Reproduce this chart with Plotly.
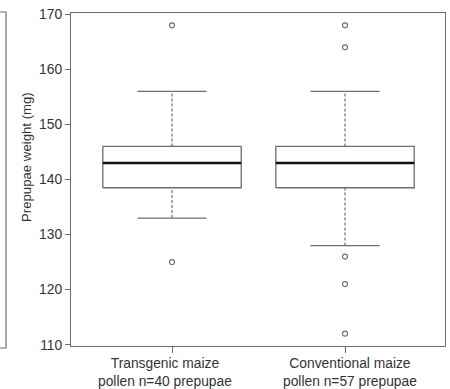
import plotly.graph_objects as go

# Summary statistics of prepupal weight (mg) per pollen treatment
groups = ["Transgenic maize<br>pollen n=40 prepupae",
          "Conventional maize<br>pollen n=57 prepupae"]
positions = [1, 2]
q1 = [138.5, 138.5]
median = [143, 143]
q3 = [146, 146]
whisker_low = [133, 128]
whisker_high = [156, 156]
outliers = [[125, 168], [112, 121, 126, 164, 168]]
y_ticks = [110, 120, 130, 140, 150, 160, 170]

BOX_HALF = 0.40
CAP_HALF = 0.20
GRAY = "#6e6e6e"
TEXT = "#333333"

# plot-area geometry in pixels, used to place free-floating text
PLOT_L, PLOT_W = 71, 374
PLOT_B, PLOT_H = 346, 333


def px_to_paper(px, py):
    return (px - PLOT_L) / PLOT_W, (PLOT_B - py) / PLOT_H


fig = go.Figure()

for i, x in enumerate(positions):
    # box outline
    fig.add_trace(go.Scatter(
        x=[x - BOX_HALF, x + BOX_HALF, x + BOX_HALF, x - BOX_HALF, x - BOX_HALF],
        y=[q1[i], q1[i], q3[i], q3[i], q1[i]],
        mode="lines", line=dict(color=GRAY, width=1.3),
        hoverinfo="skip", showlegend=False))
    # median
    fig.add_trace(go.Scatter(
        x=[x - BOX_HALF, x + BOX_HALF], y=[median[i], median[i]],
        mode="lines", line=dict(color="#111111", width=2.6),
        hoverinfo="skip", showlegend=False))
    # dashed whiskers
    for lo, hi in [(q3[i], whisker_high[i]), (whisker_low[i], q1[i])]:
        fig.add_trace(go.Scatter(
            x=[x, x], y=[lo, hi], mode="lines",
            line=dict(color=GRAY, width=1.2, dash="3px,2px"),
            hoverinfo="skip", showlegend=False))
    # whisker caps
    for v in (whisker_low[i], whisker_high[i]):
        fig.add_trace(go.Scatter(
            x=[x - CAP_HALF, x + CAP_HALF], y=[v, v], mode="lines",
            line=dict(color=GRAY, width=1.3),
            hoverinfo="skip", showlegend=False))
    # outliers
    fig.add_trace(go.Scatter(
        x=[x] * len(outliers[i]), y=outliers[i], mode="markers",
        marker=dict(symbol="circle-open", size=5, color=GRAY,
                    line=dict(width=1.1, color=GRAY)),
        hoverinfo="skip", showlegend=False))

# group labels beneath the axis
for x, label, dx in zip(positions, groups, [-7, 5]):
    fig.add_annotation(
        x=x, xref="x", y=0, yref="paper", yshift=-26, xshift=dx,
        text=label, showarrow=False, align="center",
        yanchor="middle", xanchor="center",
        font=dict(family="Liberation Sans, Arial", size=13.8, color=TEXT))

# y axis title
tx, ty = px_to_paper(26, 157)
fig.add_annotation(
    x=tx, xref="paper", y=ty, yref="paper", text="Prepupae weight (mg)",
    textangle=-90, showarrow=False, xanchor="center", yanchor="middle",
    font=dict(family="Liberation Sans, Arial", size=13.2, color=TEXT))

fig.update_layout(
    width=450, height=389,
    margin=dict(l=71, r=5, t=13, b=43),
    paper_bgcolor="white", plot_bgcolor="white",
    font=dict(family="Liberation Sans, Arial", color=TEXT),
    xaxis=dict(range=[0.416, 2.578], tickvals=positions, ticktext=["", ""],
               ticks="outside", ticklen=6, tickcolor=GRAY,
               showline=True, mirror=True, linecolor=GRAY, linewidth=1.2,
               showgrid=False, zeroline=False, fixedrange=True),
    yaxis=dict(range=[109.76, 170.24], tickvals=y_ticks,
               ticks="outside", ticklen=5, tickcolor=GRAY,
               showline=True, mirror=True, linecolor=GRAY, linewidth=1.2,
               tickfont=dict(size=13.8, color=TEXT),
               showgrid=False, zeroline=False, fixedrange=True),
)

# edge of the neighbouring panel at the far left
x0, _ = px_to_paper(-6, 0)
x1, _ = px_to_paper(6, 0)
_, y0 = px_to_paper(0, 348)
_, y1 = px_to_paper(0, 12)
fig.add_shape(type="rect", xref="paper", yref="paper",
              x0=x0, x1=x1, y0=y0, y1=y1,
              line=dict(color=GRAY, width=1.2))

fig.write_html("out.html")
